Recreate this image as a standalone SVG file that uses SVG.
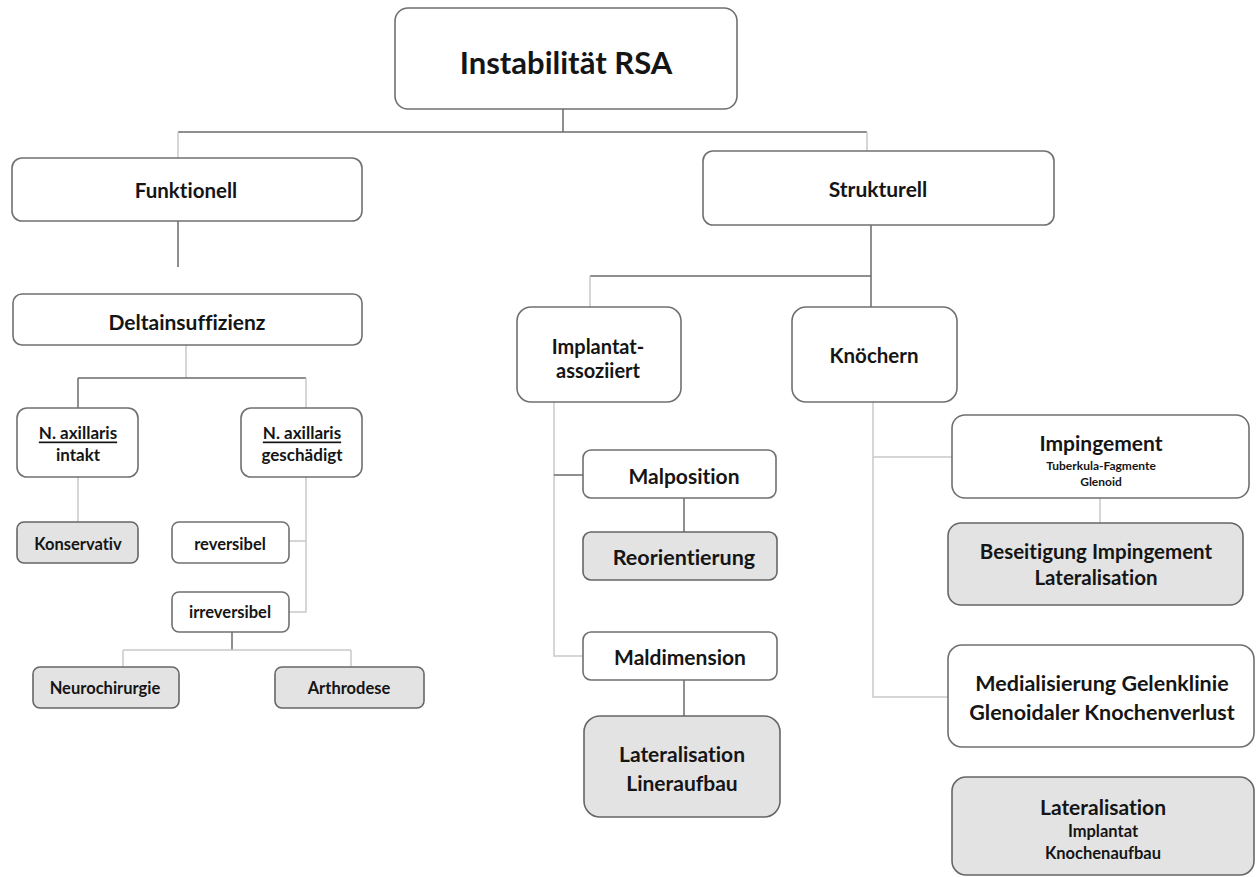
<svg xmlns="http://www.w3.org/2000/svg" width="1256" height="877" viewBox="0 0 1256 877">
<style>
text{font-family:Lato,"Open Sans","Liberation Sans",sans-serif;font-weight:bold;fill:#151515;text-anchor:middle;dominant-baseline:central;font-variant-ligatures:none;font-feature-settings:"liga" 0,"clig" 0}
.b{fill:#fff;stroke:#707070;stroke-width:1.6}
.g{fill:#e3e3e3;stroke:#666;stroke-width:1.6}
.c{stroke:#6a6a6a;stroke-width:1.5;fill:none}
.cl{stroke:#c9c9c9;stroke-width:1.5;fill:none}
.u{text-decoration:underline}
</style>
<rect width="1256" height="877" fill="#fff"/>
<g id="connectors">
<line class="c" x1="563" y1="109" x2="563" y2="132"/>
<line class="c" x1="178" y1="132" x2="867" y2="132"/>
<line class="cl" x1="178" y1="132" x2="178" y2="158"/>
<line class="cl" x1="867" y1="132" x2="867" y2="151"/>
<line class="c" x1="178" y1="221" x2="178" y2="267"/>
<line class="cl" x1="186" y1="345" x2="186" y2="378"/>
<line class="c" x1="78" y1="378" x2="306" y2="378"/>
<line class="c" x1="78" y1="378" x2="78" y2="408"/>
<line class="cl" x1="306" y1="378" x2="306" y2="408"/>
<polyline class="cl" points="306,477 306,612 289,612"/>
<line class="cl" x1="289" y1="541" x2="306" y2="541"/>
<line class="cl" x1="78" y1="477" x2="78" y2="522"/>
<line class="c" x1="232" y1="632" x2="232" y2="650"/>
<line class="cl" x1="123" y1="650" x2="351" y2="650"/>
<line class="cl" x1="123" y1="650" x2="123" y2="667"/>
<line class="cl" x1="351" y1="650" x2="351" y2="667"/>
<line class="c" x1="871" y1="225" x2="871" y2="307"/>
<line class="c" x1="590" y1="276" x2="871" y2="276"/>
<line class="cl" x1="590" y1="276" x2="590" y2="307"/>
<polyline class="cl" points="554,402 554,656 583,656"/>
<line class="c" x1="554" y1="475" x2="583" y2="475"/>
<line class="c" x1="684" y1="498" x2="684" y2="532"/>
<line class="c" x1="684" y1="680" x2="684" y2="716"/>
<polyline class="cl" points="873,402 873,697 948,697"/>
<line class="cl" x1="873" y1="457" x2="952" y2="457"/>
<line class="cl" x1="1100" y1="498" x2="1100" y2="523"/>
</g>
<g id="root"><rect class="b" x="395" y="8" width="342" height="101" rx="13"/><text x="566" y="62" font-size="31">Instabilität RSA</text></g>
<g id="funktionell"><rect class="b" x="12" y="158" width="350" height="63" rx="10"/><text x="186" y="190" font-size="20.5">Funktionell</text></g>
<g id="strukturell"><rect class="b" x="703" y="151" width="351" height="74" rx="10"/><text x="878" y="188" font-size="21">Strukturell</text></g>
<g id="deltainsuffizienz"><rect class="b" x="13" y="294" width="349" height="51" rx="9"/><text x="187" y="321" font-size="21">Deltainsuffizienz</text></g>
<g id="intakt"><rect class="b" x="17" y="408" width="121" height="69" rx="10"/><text class="u" x="78" y="432" font-size="17">N. axillaris</text><text x="78" y="454" font-size="17">intakt</text></g>
<g id="geschaedigt"><rect class="b" x="241" y="408" width="121" height="69" rx="10"/><text class="u" x="302" y="432" font-size="17">N. axillaris</text><text x="302" y="454" font-size="17">geschädigt</text></g>
<g id="konservativ"><rect class="g" x="17" y="522" width="121" height="41" rx="7"/><text x="78" y="544" font-size="16.5">Konservativ</text></g>
<g id="reversibel"><rect class="b" x="172" y="522" width="117" height="41" rx="7"/><text x="230" y="544" font-size="16.5">reversibel</text></g>
<g id="irreversibel"><rect class="b" x="172" y="592" width="117" height="40" rx="7"/><text x="230" y="612" font-size="16.5">irreversibel</text></g>
<g id="neurochirurgie"><rect class="g" x="33" y="667" width="146" height="41" rx="7"/><text x="105" y="688" font-size="16.5">Neurochirurgie</text></g>
<g id="arthrodese"><rect class="g" x="275" y="667" width="149" height="41" rx="7"/><text x="349" y="688" font-size="16.5">Arthrodese</text></g>
<g id="implantat"><rect class="b" x="517" y="307" width="164" height="95" rx="14"/><text x="598" y="346" font-size="20">Implantat-</text><text x="598" y="370" font-size="20">assoziiert</text></g>
<g id="knoechern"><rect class="b" x="792" y="307" width="165" height="95" rx="14"/><text x="874" y="355" font-size="20.5">Knöchern</text></g>
<g id="malposition"><rect class="b" x="583" y="450" width="193" height="48" rx="8"/><text x="684" y="475" font-size="21">Malposition</text></g>
<g id="reorientierung"><rect class="g" x="583" y="532" width="194" height="48" rx="8"/><text x="684" y="557" font-size="21.5">Reorientierung</text></g>
<g id="maldimension"><rect class="b" x="583" y="632" width="194" height="48" rx="8"/><text x="680" y="656" font-size="21">Maldimension</text></g>
<g id="lateralisation-liner"><rect class="g" x="584" y="716" width="196" height="101" rx="16"/><text x="682" y="753" font-size="21">Lateralisation</text><text x="682" y="782" font-size="21">Lineraufbau</text></g>
<g id="impingement"><rect class="b" x="952" y="415" width="297" height="83" rx="13"/><text x="1101" y="442" font-size="21">Impingement</text><text x="1101" y="465" font-size="12">Tuberkula-Fagmente</text><text x="1101" y="481" font-size="12">Glenoid</text></g>
<g id="beseitigung"><rect class="g" x="948" y="523" width="295" height="82" rx="13"/><text x="1096" y="551" font-size="20.5">Beseitigung Impingement</text><text x="1096" y="577" font-size="20.5">Lateralisation</text></g>
<g id="medialisierung"><rect class="b" x="948" y="645" width="306" height="102" rx="14"/><text x="1102" y="683" font-size="21.5">Medialisierung Gelenklinie</text><text x="1102" y="712" font-size="21.5">Glenoidaler Knochenverlust</text></g>
<g id="lateralisation-implantat"><rect class="g" x="952" y="777" width="302" height="98" rx="14"/><text x="1103" y="806" font-size="21">Lateralisation</text><text x="1103" y="831" font-size="16.5">Implantat</text><text x="1103" y="853" font-size="16.5">Knochenaufbau</text></g>
</svg>
